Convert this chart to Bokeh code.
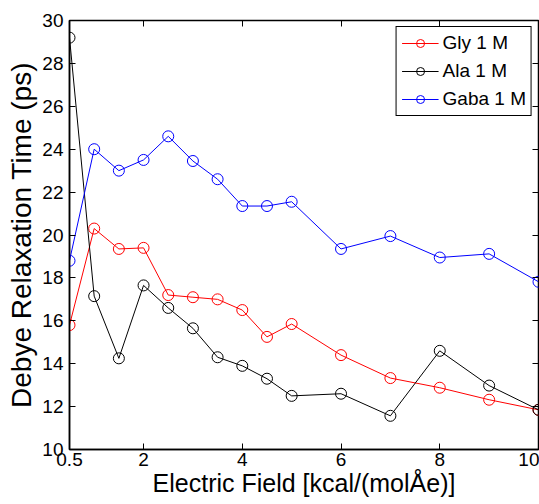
from bokeh.plotting import figure
from bokeh.models import LinearAxis, FixedTicker, Range1d, Legend, LegendItem
from bokeh.embed import file_html
from bokeh.resources import INLINE

field = [0.5, 1, 1.5, 2, 2.5, 3, 3.5, 4, 4.5, 5, 6, 7, 8, 9, 10]
gly = [15.8, 20.3, 19.35, 19.4, 17.2, 17.1, 17.0, 16.5, 15.25, 15.85, 14.4, 13.33, 12.88, 12.32, 11.85]
ala = [29.2, 17.15, 14.25, 17.65, 16.6, 15.65, 14.3, 13.9, 13.3, 12.5, 12.6, 11.57, 14.6, 12.98, 11.85]
gaba = [18.8, 24.0, 23.0, 23.5, 24.6, 23.45, 22.6, 21.35, 21.35, 21.55, 19.35, 19.95, 18.95, 19.12, 17.82]
x_ticks = [0.5, 2, 4, 6, 8, 10]
y_ticks = [10, 12, 14, 16, 18, 20, 22, 24, 26, 28, 30]

FONT = "Liberation Sans"

p = figure(width=539, height=504, output_backend="svg", toolbar_location=None,
           x_range=Range1d(0.5, 10), y_range=Range1d(10, 30),
           min_border_left=69, min_border_right=1, min_border_top=20, min_border_bottom=55,
           x_axis_label="Electric Field [kcal/(molÅe)]",
           y_axis_label="Debye Relaxation Time (ps)")
p.xgrid.visible = False
p.ygrid.visible = False
p.outline_line_color = "black"
p.outline_line_width = 1.5
p.outline_line_alpha = 1

for ax, ticks in ((p.xaxis[0], x_ticks), (p.yaxis[0], y_ticks)):
    ax.ticker = FixedTicker(ticks=ticks)
    ax.major_tick_in = 6
    ax.major_tick_out = 0
    ax.minor_tick_in = 0
    ax.minor_tick_out = 0
    ax.axis_line_color = "black"
    ax.axis_line_width = 1.5
    ax.major_tick_line_color = "black"
    ax.major_label_text_font = FONT
    ax.major_label_text_font_size = "19px"
    ax.major_label_text_color = "black"
    ax.axis_label_text_font = FONT
    ax.axis_label_text_font_style = "normal"
    ax.axis_label_text_color = "black"

p.xaxis[0].axis_label_text_font_size = "25px"
p.xaxis[0].major_label_standoff = 3
p.xaxis[0].axis_label_standoff = 0
p.yaxis[0].axis_label_text_font_size = "28px"
p.yaxis[0].major_label_standoff = 6
p.yaxis[0].axis_label_standoff = 2

for loc, ticks in (("above", x_ticks), ("right", y_ticks)):
    ax = LinearAxis(ticker=FixedTicker(ticks=ticks))
    ax.major_tick_in = 6
    ax.major_tick_out = 0
    ax.minor_tick_in = 0
    ax.minor_tick_out = 0
    ax.axis_line_color = None
    ax.major_label_text_color = None
    ax.major_label_text_font_size = "1px"
    ax.major_label_standoff = 0
    ax.major_tick_line_color = "black"
    p.add_layout(ax, loc)

items = []
for name, vals, col in (("Gly 1 M", gly, "red"), ("Ala 1 M", ala, "black"), ("Gaba 1 M", gaba, "blue")):
    r1 = p.line(field, vals, line_color=col, line_width=1)
    r2 = p.scatter(field, vals, marker="circle", size=11, fill_color=None, line_color=col, line_width=1)
    items.append(LegendItem(label=name, renderers=[r1, r2]))

legend = Legend(items=items, location="top_right")
legend.label_text_font = FONT
legend.label_text_font_size = "19px"
legend.label_text_color = "black"
legend.border_line_color = "black"
legend.border_line_width = 1.5
legend.border_line_alpha = 1
legend.background_fill_color = "white"
legend.margin = 6
legend.padding = 5
legend.spacing = 6
legend.glyph_width = 37
legend.label_standoff = 4
legend.label_height = 20
legend.glyph_height = 20
p.add_layout(legend)

open("out.html", "w").write(file_html(p, INLINE))
